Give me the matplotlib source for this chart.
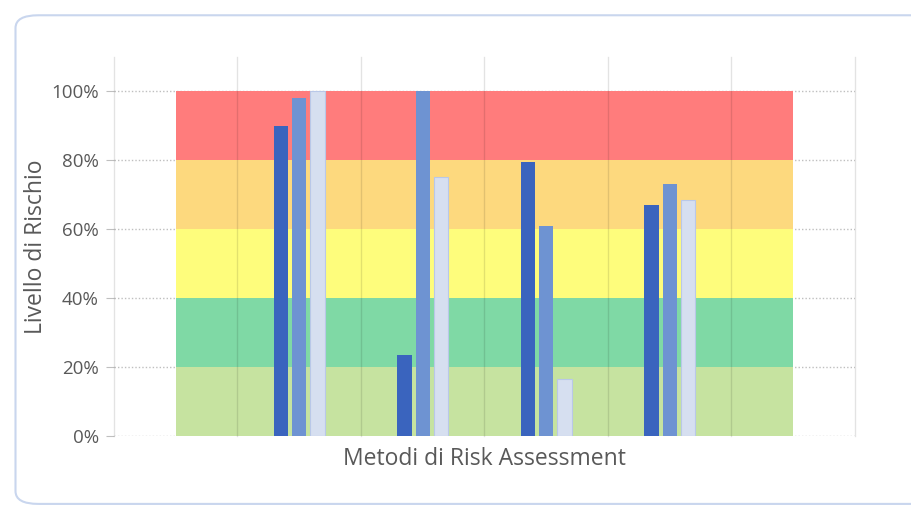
import matplotlib.pyplot as plt
from matplotlib.patches import FancyBboxPatch

plt.rcParams['font.family'] = ['Open Sans', 'DejaVu Sans']

# risk bands (each 20% tall)
band_bottoms = [0.0, 0.2, 0.4, 0.6, 0.8]
band_heights = [0.2, 0.2, 0.2, 0.2, 0.2]
band_colors = ['#C6E3A0', '#7FD9A5', '#FEFD7C', '#FDD97E', '#FF7C7C']

# four methods, three series each
group_pos = [1.5, 2.5, 3.5, 4.5]
serie_1 = [0.90, 0.235, 0.795, 0.67]
serie_2 = [0.98, 1.00, 0.61, 0.73]
serie_3 = [1.00, 0.75, 0.165, 0.685]

yticks = [0, 0.2, 0.4, 0.6, 0.8, 1.0]
ytick_labels = ['0%', '20%', '40%', '60%', '80%', '100%']

fig = plt.figure(figsize=(9.12, 5.09), dpi=100)

# rounded card border
card = FancyBboxPatch((0.017, 0.01), 1.05, 0.96, boxstyle='round,pad=0,rounding_size=0.025',
                      transform=fig.transFigure, facecolor='none',
                      edgecolor='#C9D6EE', linewidth=1.5, zorder=-1)
fig.patches.append(card)

ax = fig.add_axes([0.125, 0.1434, 0.8125, 0.745])
ax.set_facecolor('none')

# bands
ax.bar([3] * 5, band_heights, width=5, bottom=band_bottoms, color=band_colors,
       linewidth=0, zorder=1)

# grid
for y in yticks:
    ax.axhline(y, color='#BFBFBF', linestyle=(0, (1, 1.5)), linewidth=1, zorder=0.5)
for x in range(7):
    ax.plot([x, x], [0, 1.10], color='#000000', alpha=0.11, linewidth=1, zorder=2,
            clip_on=False)

w = 0.115
off = 0.147
ax.bar([p - off for p in group_pos], serie_1, width=w, color='#3A64BE', zorder=3)
ax.bar(group_pos, serie_2, width=w, color='#6E93D2', zorder=3)
ax.bar([p + off for p in group_pos], serie_3, width=w, color='#D6DFF0',
       edgecolor='#B9C8E8', linewidth=0.8, zorder=3)

ax.set_xlim(0, 6)
ax.set_ylim(0, 1.10)
ax.set_yticks(yticks)
ax.set_yticklabels(ytick_labels)
ax.set_xticks([])
ax.tick_params(axis='y', length=6, color='#BFBFBF', labelsize=13.5, labelcolor='#595959', pad=5)
for s in ax.spines.values():
    s.set_visible(False)

ax.set_ylabel('Livello di Rischio', fontsize=16.5, color='#595959', labelpad=2)
ax.set_xlabel('Metodi di Risk Assessment', fontsize=16.5, color='#595959', labelpad=8)

fig.savefig('out.png', dpi=100)
